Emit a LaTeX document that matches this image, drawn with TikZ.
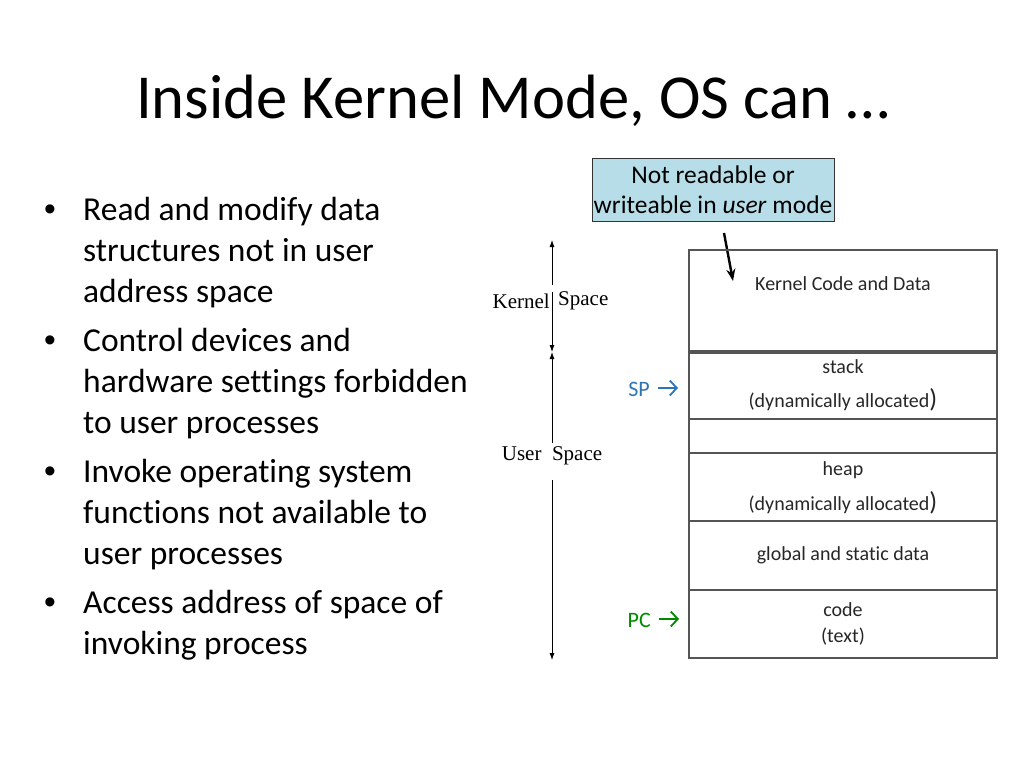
\documentclass[tikz,border=0pt]{standalone}
\usepackage{fontspec}
\setmainfont[Ligatures=NoCommon]{Carlito}
\newfontfamily\timesf{Liberation Serif}
\newfontfamily\arialf{Liberation Sans}
\usetikzlibrary{arrows.meta}
\definecolor{boxblue}{HTML}{B7DEE8}
\definecolor{spblue}{HTML}{2E75B6}
\definecolor{pcgreen}{HTML}{008A00}
\definecolor{gridgray}{HTML}{555555}
\tikzset{
  bullettext/.style={anchor=base west, font=\fontsize{33.5}{41}\selectfont, inner sep=0pt},
  bulletdot/.style={anchor=base, font=\arialf\fontsize{33.5}{41}\selectfont, inner sep=0pt},
  memrow/.style={draw=gridgray, line width=1.2pt},
  memtext/.style={font=\fontsize{20}{24}\selectfont, inner sep=0pt, text=black!85},
  spacelabel/.style={font=\timesf\fontsize{21}{24}\selectfont, inner sep=0pt},
  regarrow/.style={-{Straight Barb[length=7pt,width=15pt]}, line width=1.8pt},
  kerarrow/.style={-{Latex[length=7pt,width=5pt]}, line width=0.8pt},
}
\begin{document}
\begin{tikzpicture}[x=1pt,y=-1pt]
\useasboundingbox (0,0) rectangle (1024,768);
% title
\node[anchor=base west, inner sep=0pt, font=\fontsize{62.6}{70}\selectfont] (title) at (136,118) {Inside Kernel Mode, OS can …};
% bullets
\node[bulletdot] (b1) at (50,220) {•};
\node[bullettext] (t1a) at (83,220) {Read and modify data};
\node[bullettext] (t1b) at (83,261) {structures not in user};
\node[bullettext] (t1c) at (83,302) {address space};
\node[bulletdot] (b2) at (50,351) {•};
\node[bullettext] (t2a) at (83,351) {Control devices and};
\node[bullettext] (t2b) at (83,392) {hardware settings forbidden};
\node[bullettext] (t2c) at (83,433) {to user processes};
\node[bulletdot] (b3) at (50,482) {•};
\node[bullettext] (t3a) at (83,482) {Invoke operating system};
\node[bullettext] (t3b) at (83,523) {functions not available to};
\node[bullettext] (t3c) at (83,564) {user processes};
\node[bulletdot] (b4) at (50,613) {•};
\node[bullettext] (t4a) at (83,613) {Access address of space of};
\node[bullettext] (t4b) at (83,654) {invoking process};
% note box
\node[draw=black!80, fill=boxblue, line width=0.8pt, minimum width=242pt, minimum height=63pt, inner sep=0pt, align=center,
      font=\fontsize{25.5}{30}\selectfont] (note) at (713,189.5) {Not readable or\\writeable in \textit{user} mode};
\coordinate (notetip) at (733,281);
\draw[-{Stealth[length=12pt,width=9pt]}, line width=2.4pt] (724,233) -- (notetip);
% memory table
\draw[memrow] (689,250) rectangle (997,351);
\draw[memrow] (689,353) rectangle (997,419);
\draw[memrow] (689,419) rectangle (997,453);
\draw[memrow] (689,453) rectangle (997,521);
\draw[memrow] (689,521) rectangle (997,590);
\draw[memrow] (689,590) rectangle (997,658);
\node[memtext] (kcd) at (843,284) {Kernel Code and Data};
\node[memtext] (stk) at (843,367) {stack};
\node[memtext] (stkd) at (843,400) {(dynamically allocated\fontsize{26}{26}\selectfont)};
\node[memtext] (hp) at (843,470) {heap};
\node[memtext] (hpd) at (843,503) {(dynamically allocated\fontsize{26}{26}\selectfont)};
\node[memtext] (gsd) at (843,555) {global and static data};
\node[memtext] (cd) at (843,610) {code};
\node[memtext] (cdt) at (843,637) {(text)};
% space arrows
\coordinate (ktop) at (552,240);
\coordinate (kbot) at (552,352);
\coordinate (ubot) at (552,660);
\draw[kerarrow] (552,285) -- (ktop);
\draw[kerarrow] (552,292) -- (kbot);
\node[spacelabel, anchor=east] (kl) at (550,301) {Kernel};
\node[spacelabel, anchor=west] (ks) at (558,301) {Space};
\draw[kerarrow] (552,443) -- (kbot);
\draw[kerarrow] (552,480) -- (ubot);
\node[spacelabel] (us) at (552,456) {User\ \ Space};
% SP / PC
\node[anchor=base east, inner sep=0pt, text=spblue, font=\fontsize{22}{26}\selectfont] (sp) at (650,396) {SP};
\coordinate (spend) at (678,388);
\draw[regarrow, draw=spblue] (658,388) -- (spend);
\node[anchor=base east, inner sep=0pt, text=pcgreen, font=\fontsize{22}{26}\selectfont] (pc) at (651,627) {PC};
\coordinate (pcend) at (679,619);
\draw[regarrow, draw=pcgreen] (659,619) -- (pcend);
\end{tikzpicture}
\end{document}
